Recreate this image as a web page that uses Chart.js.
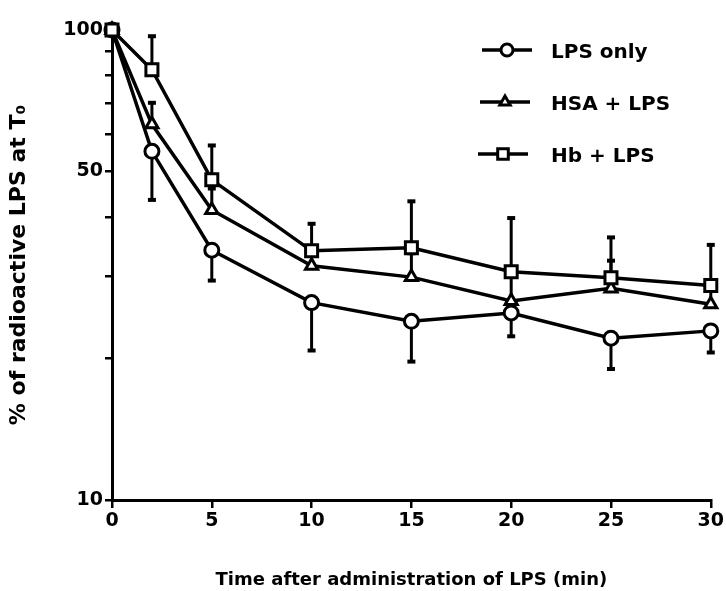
<!DOCTYPE html>
<html>
<head>
<meta charset="utf-8">
<script src="https://cdn.jsdelivr.net/npm/chart.js@4.4.1/dist/chart.umd.min.js"></script>
<style>
  html, body { margin: 0; padding: 0; background: #fff; }
  #wrap { width: 726px; height: 591px; }
</style>
</head>
<body>
<div id="wrap"><canvas id="lpsChart" width="726" height="591"></canvas></div>
<script>
// valores (eixo y logarítmico)
const times = [0, 2, 5, 10, 15, 20, 25, 30];
const xTicks = [0, 5, 10, 15, 20, 25, 30];
const yTicks = [10, 20, 30, 40, 50, 60, 70, 80, 90, 100];
const yLabels = [10, 50, 100];

const lpsOnly = [100, 55.2, 34.0, 26.3, 24.0, 25.0, 22.1, 22.9];
const lpsOnlyLow = [null, 43.5, 29.3, 20.8, 19.7, 22.3, 19.0, 20.6];

const hsaLps = [100, 63.0, 41.4, 31.5, 29.8, 26.5, 28.2, 26.1];
const hsaLpsHigh = [null, 70, 46, 33.5, 33.5, 30.5, 32.3, 28.8];

const hbLps = [100, 82.3, 48.0, 33.9, 34.4, 30.6, 29.7, 28.6];
const hbLpsHigh = [null, 97, 56.8, 38.7, 43.2, 39.8, 36.2, 34.9];

const FONT = "'DejaVu Sans', sans-serif";

function pts(values) {
  return times.map((t, i) => ({ x: t, y: values[i] }));
}

// barras de erro (só um lado, como no original)
const errorBars = {
  id: "errorBars",
  beforeDatasetsDraw(chart) {
    const ctx = chart.ctx;
    const xs = chart.scales.x, ys = chart.scales.y;
    ctx.save();
    ctx.strokeStyle = "#000";
    chart.data.datasets.forEach(ds => {
      ds.errEnd.forEach((end, i) => {
        if (end == null) return;
        const px = xs.getPixelForValue(times[i]);
        const py0 = ys.getPixelForValue(ds.data[i].y);
        const py1 = ys.getPixelForValue(end);
        ctx.lineWidth = 3;
        ctx.beginPath();
        ctx.moveTo(px, py0);
        ctx.lineTo(px, py1);
        ctx.stroke();
        ctx.lineWidth = 4;
        ctx.beginPath();
        ctx.moveTo(px - 4, py1);
        ctx.lineTo(px + 4, py1);
        ctx.stroke();
      });
    });
    ctx.restore();
  }
};

// legenda desenhada no canto superior direito
const sideLegend = {
  id: "sideLegend",
  afterDraw(chart) {
    const ctx = chart.ctx;
    const rows = [
      { i: 0, y: 50, lx: 482 },
      { i: 1, y: 102, lx: 480 },
      { i: 2, y: 154, lx: 478 }
    ];
    ctx.save();
    rows.forEach(r => {
      const ds = chart.data.datasets[r.i];
      ctx.strokeStyle = "#000";
      ctx.lineWidth = 3.5;
      ctx.beginPath();
      ctx.moveTo(r.lx, r.y);
      ctx.lineTo(r.lx + 50, r.y);
      ctx.stroke();
      ctx.fillStyle = "#fff";
      ctx.lineWidth = 3;
      Chart.helpers.drawPoint(ctx, {
        pointStyle: ds.pointStyle,
        radius: ds.pointRadius - 1,
        borderWidth: 3,
        rotation: 0
      }, r.lx + 25, r.y);
      ctx.fillStyle = "#000";
      ctx.font = "bold 20px " + FONT;
      ctx.textBaseline = "middle";
      ctx.textAlign = "left";
      ctx.fillText(ds.label, 551, r.y + 3);
    });
    ctx.restore();
  }
};

const common = {
  showLine: true,
  borderColor: "#000",
  borderWidth: 3.5,
  pointBackgroundColor: "#fff",
  pointBorderColor: "#000",
  pointBorderWidth: 3,
  tension: 0,
  clip: false
};

new Chart(document.getElementById("lpsChart"), {
  type: "scatter",
  data: {
    datasets: [
      Object.assign({}, common, {
        label: "LPS only", data: pts(lpsOnly), errEnd: lpsOnlyLow,
        pointStyle: "circle", pointRadius: 7, order: 3
      }),
      Object.assign({}, common, {
        label: "HSA + LPS", data: pts(hsaLps), errEnd: hsaLpsHigh,
        pointStyle: "triangle", pointRadius: 7, order: 2
      }),
      Object.assign({}, common, {
        label: "Hb + LPS", data: pts(hbLps), errEnd: hbLpsHigh,
        pointStyle: "rect", pointRadius: 8.5, order: 1
      })
    ]
  },
  options: {
    responsive: false,
    animation: false,
    layout: { padding: { top: 30, right: 10, left: 0, bottom: 0 } },
    plugins: {
      legend: { display: false },
      tooltip: { enabled: false }
    },
    scales: {
      x: {
        type: "linear",
        min: 0,
        max: 30,
        afterBuildTicks: s => { s.ticks = xTicks.map(v => ({ value: v })); },
        afterFit: s => { s.height = 91; },
        border: { display: true, color: "#000", width: 3 },
        grid: { drawOnChartArea: false, drawTicks: true, tickLength: 8, color: "#000", lineWidth: 2.5 },
        ticks: {
          color: "#000",
          font: { family: FONT, size: 19, weight: "bold" },
          padding: 2
        },
        title: {
          display: true,
          text: "Time after administration of LPS (min)",
          color: "#000",
          font: { family: FONT, size: 18, weight: "bold" },
          padding: { top: 2, bottom: 0 }
        }
      },
      y: {
        type: "logarithmic",
        min: 10,
        max: 100,
        afterBuildTicks: s => { s.ticks = yTicks.map(v => ({ value: v })); },
        afterFit: s => { s.width = 112; },
        border: { display: true, color: "#000", width: 3 },
        grid: { drawOnChartArea: false, drawTicks: true, tickLength: 7, color: "#000", lineWidth: 2.5 },
        ticks: {
          color: "#000",
          font: { family: FONT, size: 19, weight: "bold" },
          padding: 2,
          autoSkip: false,
          callback: v => yLabels.includes(v) ? String(v) : ""
        },
        title: {
          display: true,
          text: "% of radioactive LPS at T\u2080",
          color: "#000",
          font: { family: FONT, size: 22, weight: "bold" },
          padding: { top: 6, bottom: 0 }
        }
      }
    }
  },
  plugins: [errorBars, sideLegend]
});
</script>
</body>
</html>
